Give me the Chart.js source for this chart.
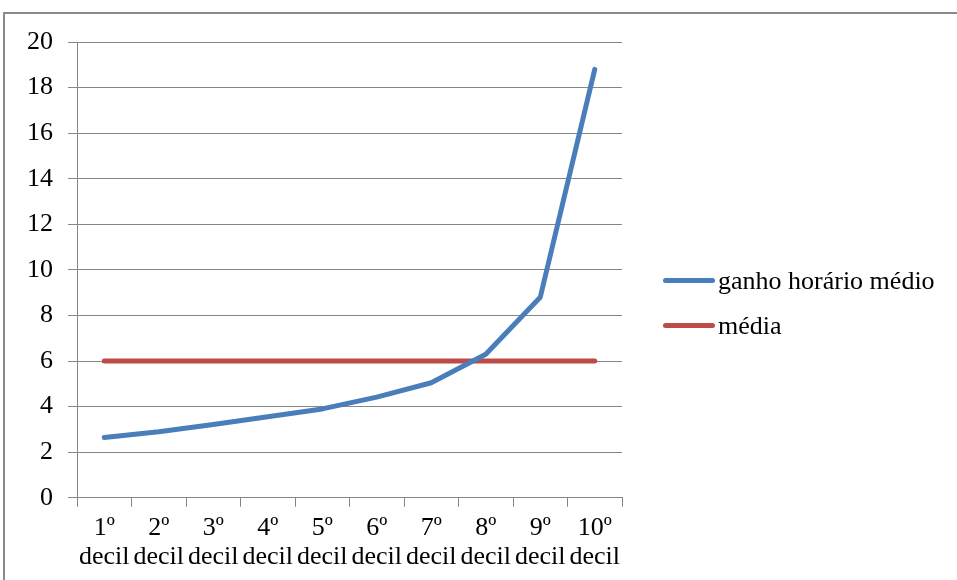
<!DOCTYPE html>
<html>
<head>
<meta charset="utf-8">
<script src="https://cdn.jsdelivr.net/npm/chart.js@4/dist/chart.umd.min.js"></script>
<style>
  html, body { margin: 0; padding: 0; background: #fff; overflow: hidden; }
  body { width: 957px; height: 580px; position: relative; }
  .frame { position: absolute; left: 3px; top: 12px; width: 2000px; height: 2000px;
           border: 2px solid #8a8a8a; box-sizing: border-box; }
  #chart { position: absolute; left: 0; top: 0; }
  .legend { position: absolute; left: 663px; top: 258px; font-family: 'Liberation Serif', 'Times New Roman', serif;
            font-size: 26px; color: #000; }
  .legend .item { display: flex; align-items: center; height: 45px; white-space: nowrap; }
  .legend .swatch { width: 52px; height: 5px; border-radius: 3px; margin-right: 3px; }
</style>
</head>
<body>
<div class="frame"></div>
<canvas id="chart" width="957" height="580"></canvas>
<div class="legend" id="legend"></div>
<script>
// Deciles of the hourly earnings distribution
const categories = [
  ['1º', 'decil'], ['2º', 'decil'], ['3º', 'decil'], ['4º', 'decil'], ['5º', 'decil'],
  ['6º', 'decil'], ['7º', 'decil'], ['8º', 'decil'], ['9º', 'decil'], ['10º', 'decil']
];
// Average hourly earnings per decile
const ganhoHorarioMedio = [2.65, 2.9, 3.22, 3.56, 3.9, 4.42, 5.05, 6.3, 8.8, 18.8];
// Overall average, constant across deciles
const media = [6, 6, 6, 6, 6, 6, 6, 6, 6, 6];
const seriesNames = ['ganho horário médio', 'média'];
const yTicks = [0, 2, 4, 6, 8, 10, 12, 14, 16, 18, 20];

const BLUE = '#4a7ebb';
const RED = '#be4b48';
const GRID = '#868686';
const FONT = { family: "'Liberation Serif', 'Times New Roman', serif", size: 26, lineHeight: 1.1 };

const chart = new Chart(document.getElementById('chart'), {
  type: 'line',
  data: {
    labels: categories,
    datasets: [
      { label: seriesNames[0], data: ganhoHorarioMedio, borderColor: BLUE, backgroundColor: BLUE,
        borderWidth: 5, pointRadius: 0, tension: 0, borderCapStyle: 'round', borderJoinStyle: 'round' },
      { label: seriesNames[1], data: media, borderColor: RED, backgroundColor: RED,
        borderWidth: 5, pointRadius: 0, tension: 0, borderCapStyle: 'round', borderJoinStyle: 'round' }
    ]
  },
  options: {
    responsive: false,
    animation: false,
    layout: { padding: { left: 12, top: 42, right: 335, bottom: 2 } },
    plugins: { legend: { display: false }, tooltip: { enabled: false } },
    scales: {
      x: {
        offset: true,
        grid: { display: true, offset: true, drawOnChartArea: false, drawTicks: true, tickLength: 9,
                color: GRID, lineWidth: 1 },
        border: { display: true, color: GRID, width: 1 },
        ticks: { color: '#000', font: FONT, padding: 7, maxRotation: 0, minRotation: 0, autoSkip: false }
      },
      y: {
        min: 0, max: 20,
        afterBuildTicks: (scale) => { scale.ticks = yTicks.map(v => ({ value: v })); },
        grid: { color: GRID, lineWidth: 1, drawTicks: true, tickLength: 9 },
        border: { display: true, color: GRID, width: 1 },
        ticks: { color: '#000', font: FONT, padding: 15 }
      }
    }
  }
});

// Legend built from the datasets
const legend = document.getElementById('legend');
chart.data.datasets.forEach(ds => {
  const item = document.createElement('div');
  item.className = 'item';
  const sw = document.createElement('span');
  sw.className = 'swatch';
  sw.style.background = ds.borderColor;
  const txt = document.createElement('span');
  txt.textContent = ds.label;
  item.appendChild(sw);
  item.appendChild(txt);
  legend.appendChild(item);
});
</script>
</body>
</html>
